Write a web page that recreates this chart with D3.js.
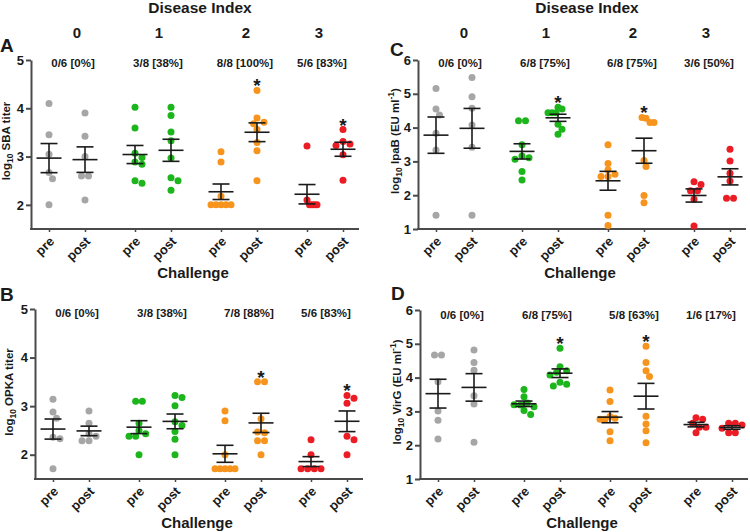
<!DOCTYPE html>
<html><head><meta charset="utf-8">
<script src="https://cdn.jsdelivr.net/npm/d3@7"></script>
<style>
body{margin:0;background:#fff}
#wrap{position:relative;width:750px;height:532px}
svg{display:block;position:absolute;left:0;top:0;font-family:"Liberation Sans",Arial,sans-serif;font-weight:bold}
.xlab{position:absolute;white-space:nowrap;line-height:1;font:bold 13px "Liberation Sans",Arial,sans-serif;color:#1a1a1a;transform-origin:0 0;transform:rotate(-45deg) translate(-100%,-50%)}
</style></head><body>
<div id="wrap"><svg id="chart" width="750" height="532"></svg></div>
<script>
// ---------- data ----------
const diseaseIndex = ['0', '1', '2', '3'];
const phases = ['pre', 'post'];
const groupColors = ['#a6a6a6', '#1cb51c', '#f7941d', '#ec1c24'];

// each list: columns in order pre0, post0, pre1, post1, pre2, post2, pre3, post3 (log10 values)
const sbaValues = [
  [4.1, 3.45, 3.05, 2.67, 2.54, 2.0],
  [3.9, 3.42, 3.0, 2.6, 2.6, 2.1],
  [4.02, 3.59, 3.07, 2.98, 2.89, 2.84, 2.5, 2.45],
  [4.02, 3.85, 3.51, 3.33, 2.97, 2.56, 2.5, 2.3],
  [3.1, 2.89, 2.18, 2.0, 2.0, 2.0, 2.0, 2.0],
  [4.37, 3.8, 3.71, 3.68, 3.56, 3.29, 3.12, 2.5],
  [3.22, 2.1, 2.0, 2.0, 2.0, 2.0],
  [3.56, 3.31, 3.26, 3.23, 3.04, 2.51]
];
const opkaValues = [
  [3.14, 2.88, 2.75, 2.36, 2.33, 1.71],
  [2.9, 2.65, 2.43, 2.38, 2.29, 2.29],
  [3.1, 3.1, 2.65, 2.5, 2.43, 2.38, 2.38, 2.0],
  [3.22, 3.18, 3.01, 2.68, 2.6, 2.48, 2.32, 2.0],
  [2.9, 2.7, 2.0, 1.71, 1.71, 1.71, 1.71, 1.71],
  [3.5, 3.5, 2.74, 2.47, 2.45, 2.29, 2.29, 2.0],
  [2.31, 2.0, 1.71, 1.71, 1.71, 1.71],
  [3.22, 3.16, 3.06, 2.38, 2.31, 2.0]
];
const ipabValues = [
  [5.16, 4.55, 4.37, 3.83, 3.34, 1.41],
  [5.48, 4.91, 4.57, 4.08, 3.42, 1.41],
  [4.2, 4.2, 3.49, 3.16, 3.11, 3.06, 2.7, 2.45],
  [4.6, 4.55, 4.44, 4.44, 4.44, 4.1, 3.95, 3.8],
  [3.49, 2.94, 2.75, 2.62, 2.55, 2.55, 1.41, 1.1],
  [4.3, 4.28, 4.15, 4.15, 3.03, 2.85, 1.99, 1.78],
  [2.4, 2.32, 2.13, 2.13, 1.88, 1.09],
  [3.36, 3.01, 2.65, 2.42, 1.91, 1.91]
];
const virgValues = [
  [4.67, 4.67, 3.88, 3.01, 2.74, 2.18],
  [4.82, 4.45, 4.22, 3.46, 3.22, 2.09],
  [3.65, 3.43, 3.25, 3.2, 3.19, 3.14, 3.03, 2.91],
  [4.87, 4.32, 4.2, 4.16, 4.08, 3.86, 3.8, 3.75],
  [3.63, 3.29, 2.85, 2.8, 2.77, 2.77, 2.4, 2.13],
  [4.93, 4.45, 4.2, 4.03, 2.86, 2.63, 2.43, 2.07],
  [2.81, 2.77, 2.65, 2.53, 2.53, 2.37],
  [2.65, 2.65, 2.6, 2.5, 2.37, 2.37]
];

const sbaResponders = ['0/6 [0%]', '3/8 [38%]', '8/8 [100%]', '5/6 [83%]'];
const opkaResponders = ['0/6 [0%]', '3/8 [38%]', '7/8 [88%]', '5/6 [83%]'];
const ipabResponders = ['0/6 [0%]', '6/8 [75%]', '6/8 [75%]', '3/6 [50%]'];
const virgResponders = ['0/6 [0%]', '6/8 [75%]', '5/8 [63%]', '1/6 [17%]'];

// significant (*) columns: index into the value lists
const sbaSignificant = [5, 7];
const opkaSignificant = [5, 7];
const ipabSignificant = [3, 5];
const virgSignificant = [3, 5];

const sbaTicks = [2, 3, 4, 5];
const opkaTicks = [2, 3, 4, 5];
const ipabTicks = [1, 2, 3, 4, 5, 6];
const virgTicks = [1, 2, 3, 4, 5, 6];

// ---------- layout ----------
const panels = [
  {letter: 'A', values: sbaValues, resp: sbaResponders, sig: sbaSignificant, ticks: sbaTicks,
   yDomain: [1.5, 5], yRange: [229, 60], ax: 31, top: true, letterXY: [0, 52], respY: 67,
   label: [['log', 0], ['10', 1], [' SBA titer', 0]], labelXY: [9.5, 141]},
  {letter: 'B', values: opkaValues, resp: opkaResponders, sig: opkaSignificant, ticks: opkaTicks,
   yDomain: [1.5, 5], yRange: [479, 309], ax: 35, top: false, letterXY: [0, 301], respY: 317,
   label: [['log', 0], ['10', 1], [' OPKA titer', 0]], labelXY: [12.5, 392]},
  {letter: 'C', values: ipabValues, resp: ipabResponders, sig: ipabSignificant, ticks: ipabTicks,
   yDomain: [1, 6], yRange: [229, 60], ax: 418, top: true, letterXY: [390, 56], respY: 67,
   label: [['log', 0], ['10', 1], [' IpaB (EU ml', 0], ['-1', 2], [')', 0]], labelXY: [398.5, 141]},
  {letter: 'D', values: virgValues, resp: virgResponders, sig: virgSignificant, ticks: virgTicks,
   yDomain: [1, 6], yRange: [479, 310], ax: 420, top: false, letterXY: [391, 300], respY: 319,
   label: [['log', 0], ['10', 1], [' VirG (EU ml', 0], ['-1', 2], [')', 0]], labelXY: [400.5, 392]}
];
const indexLabelShift = [10, 6, 7, -6];
const respLabelShift = [6, 5, 6, -3];
const axisLen = 328;
const dotR = 3.5, dotStep = 7, maxHalf = 10;
const ink = '#1a1a1a', axisInk = '#4a4a4a';
const FONT = '"Liberation Sans",Arial,sans-serif';

const svg = d3.select('#chart');
const wrap = d3.select('#wrap');

function swarm(vals, y) {
  const order = vals.map((v, i) => i).sort((a, b) => vals[b] - vals[a]);
  const rows = [];
  order.forEach(i => {
    const py = y(vals[i]);
    const last = rows[rows.length - 1];
    if (last && Math.abs(last.y - py) < 1) last.items.push(i);
    else rows.push({y: py, items: [i]});
  });
  const placed = [];
  const off = vals.map(() => 0);
  const shifts = [0];
  for (let k = 1; k <= 10; k++) shifts.push(k * dotStep / 2, -k * dotStep / 2);
  rows.forEach(r => {
    const n = r.items.length;
    const base = r.items.map((_, j) => (j - (n - 1) / 2) * dotStep);
    for (const s of shifts) {
      const ok = base.every(b => placed.every(p => Math.hypot(p.x - (b + s), p.y - r.y) >= dotStep - 0.6));
      if (ok) {
        r.items.forEach((i, j) => { off[i] = base[j] + s; placed.push({x: base[j] + s, y: r.y}); });
        break;
      }
    }
  });
  const m = d3.max(off, Math.abs);
  if (m > maxHalf) { const k = maxHalf / m; off.forEach((o, i) => off[i] = o * k); }
  return off;
}

panels.forEach(P => {
  const g = svg.append('g');
  const y = d3.scaleLinear().domain(P.yDomain).range(P.yRange);
  const xGroup = d3.scaleBand().domain(diseaseIndex).range([P.ax - 7, P.ax - 7 + 86 * 4]).padding(0);
  const xPhase = d3.scalePoint().domain(phases).range([-18, 18]);
  const cols = [];
  diseaseIndex.forEach((di, gi) => phases.forEach((ph, pi) => {
    const key = di + '|' + ph;
    cols.push({key, gi, ph, x: xGroup(di) + xGroup.bandwidth() / 2 + xPhase(ph), values: P.values[gi * 2 + pi]});
  }));
  const xCat = d3.scaleOrdinal().domain(cols.map(c => c.key)).range(cols.map(c => c.x));

  // y axis
  const yAxis = g.append('g').attr('transform', `translate(${P.ax},0)`)
    .call(d3.axisLeft(y).tickValues(P.ticks).tickSize(5).tickSizeOuter(0).tickPadding(2).tickFormat(d3.format('d')))
    .attr('font-size', 13).attr('font-family', FONT).attr('font-weight', 'bold');
  yAxis.select('.domain').attr('stroke', axisInk).attr('stroke-width', 2);
  yAxis.selectAll('.tick line').attr('stroke', axisInk).attr('stroke-width', 2);
  yAxis.selectAll('.tick text').attr('fill', ink);

  // x axis
  const xAxis = g.append('g').attr('transform', `translate(0,${P.yRange[0]})`)
    .call(d3.axisBottom(xCat).tickSize(3).tickFormat(() => ''));
  xAxis.select('.domain').remove();
  xAxis.selectAll('.tick text').remove();
  xAxis.append('line').attr('x1', P.ax - 1).attr('x2', P.ax + axisLen).attr('y1', 0).attr('y2', 0)
    .attr('stroke', axisInk).attr('stroke-width', 2);
  xAxis.selectAll('.tick line').attr('stroke', axisInk).attr('stroke-width', 1.5);
  // rotated category labels (HTML, rotated about their right-middle point)
  cols.forEach(c => {
    wrap.append('div').attr('class', 'xlab')
      .style('left', (xCat(c.key) + 3) + 'px').style('top', (P.yRange[0] + 10) + 'px')
      .text(c.ph);
  });

  // dots
  cols.forEach((c, ci) => {
    const off = swarm(c.values, y);
    g.append('g').selectAll('circle').data(c.values).join('circle')
      .attr('cx', (v, i) => c.x + off[i]).attr('cy', v => y(v)).attr('r', dotR)
      .attr('fill', groupColors[c.gi]);
    const mean = d3.mean(c.values);
    const sem = d3.deviation(c.values) / Math.sqrt(c.values.length);
    const eb = g.append('g').attr('stroke', ink).attr('stroke-width', 1.6).attr('fill', 'none');
    eb.append('line').attr('x1', c.x).attr('x2', c.x).attr('y1', y(mean + sem)).attr('y2', y(mean - sem));
    eb.append('line').attr('x1', c.x - 12.5).attr('x2', c.x + 12.5).attr('y1', y(mean)).attr('y2', y(mean));
    [mean + sem, mean - sem].forEach(v => eb.append('line').attr('x1', c.x - 8.5).attr('x2', c.x + 8.5).attr('y1', y(v)).attr('y2', y(v)));
    if (P.sig.includes(ci)) {
      g.append('text').attr('x', c.x).attr('y', y(d3.max(c.values)) + 2).attr('text-anchor', 'middle')
        .attr('font-size', 19).attr('fill', ink).text('*');
    }
  });

  // responders labels
  g.selectAll('.resp').data(P.resp).join('text')
    .attr('x', (d, i) => xGroup(diseaseIndex[i]) + xGroup.bandwidth() / 2 + respLabelShift[i])
    .attr('y', P.respY).attr('text-anchor', 'middle').attr('font-size', 11.5).attr('fill', ink).text(d => d);

  // panel letter
  g.append('text').attr('x', P.letterXY[0]).attr('y', P.letterXY[1]).attr('font-size', 19).attr('fill', ink).text(P.letter);

  // y label
  const yl = g.append('text').attr('transform', `translate(${P.labelXY[0]},${P.labelXY[1]}) rotate(-90)`)
    .attr('text-anchor', 'middle').attr('font-size', 11.5).attr('fill', ink);
  let prev = 0;
  P.label.forEach(([t, kind]) => {
    const shift = kind === 1 ? 3 : kind === 2 ? -5 : 0;
    yl.append('tspan').attr('dy', shift - prev).attr('font-size', kind ? 8.5 : 11.5).text(t);
    prev = shift;
  });

  // Challenge title
  g.append('text').attr('x', P.ax + 162).attr('y', P.yRange[0] + 49).attr('text-anchor', 'middle')
    .attr('font-size', 15).attr('fill', ink).text('Challenge');

  // Disease Index header
  if (P.top) {
    g.append('text').attr('x', P.ax + 169).attr('y', 13).attr('text-anchor', 'middle')
      .attr('font-size', 15.5).attr('fill', ink).text('Disease Index');
    g.selectAll('.di').data(diseaseIndex).join('text')
      .attr('x', (d, i) => xGroup(d) + xGroup.bandwidth() / 2 + indexLabelShift[i])
      .attr('y', 38).attr('text-anchor', 'middle').attr('font-size', 15).attr('fill', ink).text(d => d);
  }
});
</script>
</body></html>
